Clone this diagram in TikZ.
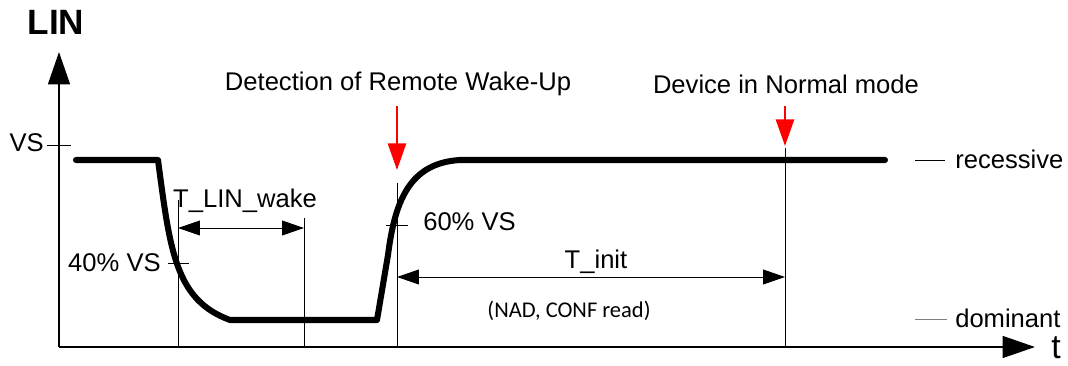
\documentclass[tikz,border=0pt]{standalone}
\usepackage{fontspec}
\setmainfont{Liberation Sans}
\newfontfamily\notefont{Carlito}
\usetikzlibrary{arrows.meta}

\tikzset{
  lbl/.style={inner sep=0pt, font=\fontsize{18.2}{20}\selectfont},
  axis/.style={line width=1.4pt, -{Triangle[length=23pt,width=15.5pt]}},
  signal/.style={line width=4.3pt, line join=round, line cap=round},
  thin/.style={line width=0.7pt},
  dim/.style={line width=0.7pt, {Triangle[length=15.5pt,width=10.5pt]}-{Triangle[length=15.5pt,width=10.5pt]}},
  redarrow/.style={red, line width=1.4pt, -{Triangle[length=19pt,width=13pt]}}
}

\begin{document}
\begin{tikzpicture}[x=0.025cm, y=-0.025cm]
  \useasboundingbox (0,0) rectangle (1068,366);

  % axes
  \coordinate (org) at (59,347);
  \coordinate (ytip) at (59,52);
  \coordinate (xtip) at (1035,347);
  \draw[axis] (org) -- (ytip);
  \draw[axis] (org) -- (xtip);
  \node[font=\bfseries\fontsize{25}{28}\selectfont, inner sep=0pt] (lin) at (56,22) {LIN};
  \node[font=\fontsize{24}{26}\selectfont, inner sep=0pt, anchor=base] (t) at (1056,359) {t};

  % VS level
  \coordinate (vsl) at (47,145);
  \coordinate (vsr) at (71,145);
  \draw[thin] (vsl) -- (vsr);
  \node[lbl, anchor=east] (vs) at (44,143) {VS};

  % bus signal
  \draw[signal] (76,160) -- (158,160)
    .. controls (170,250) and (175,300) .. (230,320) -- (377,320)
    -- (388,255) .. controls (395,200) and (410,163) .. (460,160) -- (885,160);

  % time marks
  \coordinate (wa) at (178,200);
  \coordinate (wa0) at (178,347);
  \coordinate (wb) at (304,218);
  \coordinate (wb0) at (304,347);
  \coordinate (da) at (397,183);
  \coordinate (da0) at (397,347);
  \coordinate (nm) at (785,148);
  \coordinate (nm0) at (785,347);
  \draw[thin] (wa) -- (wa0);
  \draw[thin] (wb) -- (wb0);
  \draw[thin] (da) -- (da0);
  \draw[thin] (nm) -- (nm0);

  % thresholds
  \draw[thin] (168,263) -- (189,263);
  \node[lbl, anchor=east] (p40) at (161,263) {40\% VS};
  \draw[thin] (386,225) -- (408,225);
  \node[lbl, anchor=west] (p60) at (423,222) {60\% VS};

  % durations
  \coordinate (wk1) at (178,228);
  \coordinate (wk2) at (304,228);
  \draw[dim] (wk1) -- (wk2);
  \node[lbl] (twake) at (245,201) {T\_LIN\_wake};
  \coordinate (in1) at (397,277);
  \coordinate (in2) at (785,277);
  \draw[dim] (in1) -- (in2);
  \node[lbl] (tinit) at (596,262) {T\_init};
  \node[inner sep=0pt, font=\notefont\fontsize{16}{18}\selectfont] (nad) at (569,311) {(NAD, CONF read)};

  % events
  \node[lbl] (det) at (398,84) {Detection of Remote Wake-Up};
  \node[lbl] (dev) at (786,84) {Device in Normal mode};
  \coordinate (r1a) at (397,106);
  \coordinate (r1b) at (397,170);
  \coordinate (r2a) at (785,106);
  \coordinate (r2b) at (785,146);
  \draw[redarrow] (r1a) -- (r1b);
  \draw[redarrow] (r2a) -- (r2b);

  % levels
  \draw[thin] (915,160) -- (945,160);
  \node[lbl, anchor=west] (rec) at (955,159) {recessive};
  \draw[thin, gray] (915,319) -- (947,319);
  \node[lbl, anchor=west] (dom) at (955,318) {dominant};
\end{tikzpicture}
\end{document}
